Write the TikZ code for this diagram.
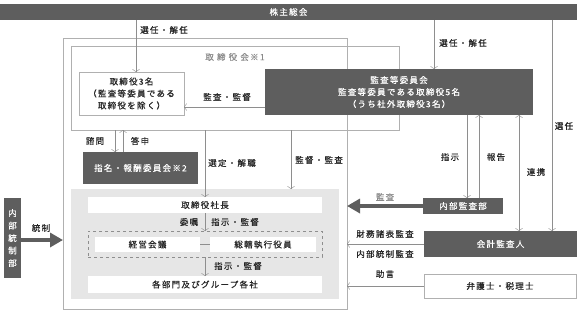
\documentclass[tikz,border=0pt]{standalone}
\usepackage{fontspec}
\setmainfont{Noto Sans CJK JP}[LetterSpace=15, FakeBold=0.5]
\usetikzlibrary{arrows.meta, positioning, calc}
\definecolor{darkfill}{HTML}{5E5E5E}
\definecolor{linegray}{HTML}{8E8E8E}
\definecolor{framegray}{HTML}{B0B0B0}
\definecolor{areagray}{HTML}{E6E6E6}
\definecolor{textgray}{HTML}{8A8A8A}
\begin{document}
\begin{tikzpicture}[
    x=1pt, y=-1pt,
    font=\fontsize{8.5}{12}\selectfont,
    every node/.style={inner sep=0pt, outer sep=0pt},
    box/.style={rectangle, draw=framegray, fill=white, anchor=north west, align=center, text=black!85},
    darkbox/.style={rectangle, fill=darkfill, anchor=north west, align=center, text=white},
    plainbox/.style={rectangle, fill=white, anchor=north west, align=center, text=black!85},
    framebox/.style={rectangle, draw=framegray, anchor=north west},
    lab/.style={text=black!85},
    arrow/.style={draw=linegray, -{Straight Barb[length=2.5pt, width=7pt]}},
    twoarrow/.style={draw=linegray, {Straight Barb[length=2.5pt, width=7pt]}-{Straight Barb[length=2.5pt, width=7pt]}},
    fatarrow/.style={draw=darkfill, line width=4pt, -{Triangle[length=13pt, width=14pt]}}
]
\useasboundingbox (0,0) rectangle (577,314);
\node[darkbox, minimum width=577pt, minimum height=16pt] (kabu) at (0,4) {株主総会};
\node[framebox, minimum width=284pt, minimum height=271pt] (outer) at (63,38) {};
\node[framebox, minimum width=328pt, minimum height=84pt] (board) at (71,46) {};
\node[text=textgray] (boardtitle) at (235,57) {取 締 役 会※1};
\node[box, minimum width=105pt, minimum height=43pt] (tori) at (79,72) {取締役3名\\（監査等委員である\\取締役を除く）};
\node[darkbox, minimum width=268pt, minimum height=46pt] (kansa) at (265,69) {監査等委員会\\監査等委員である取締役5名\\（うち社外取締役3名）};
\node[darkbox, minimum width=115pt, minimum height=32pt] (nomi) at (83,152) {指名・報酬委員会※2};
\node[rectangle, fill=areagray, anchor=north west, minimum width=268pt, minimum height=110pt] (exarea) at (71,189) {};
\node[plainbox, minimum width=234pt, minimum height=16pt] (pres) at (88,197) {取締役社長};
\node[rectangle, draw=linegray, dashed, anchor=north west, minimum width=234pt, minimum height=26pt] (dash) at (88,231) {};
\node[plainbox, minimum width=105pt, minimum height=15pt] (keiei) at (95,237) {経営会議};
\node[plainbox, minimum width=106pt, minimum height=15pt] (sokatsu) at (210,237) {総轄執行役員};
\node[plainbox, minimum width=234pt, minimum height=17pt] (depts) at (88,276) {各部門及びグループ各社};
\node[darkbox, minimum width=17pt, minimum height=80pt, font=\fontsize{8.5}{12.5}\selectfont] (naibu) at (4,198) {内\\部\\統\\制\\部};
\node[darkbox, minimum width=80pt, minimum height=16pt] (iad) at (423,198) {内部監査部};
\node[darkbox, minimum width=153pt, minimum height=26pt] (auditor) at (424,231) {会計監査人};
\node[box, minimum width=152pt, minimum height=24pt] (lawyer) at (424,274) {弁護士・税理士};

\coordinate (selA) at (136,0);
\coordinate (selB) at (434,0);
\coordinate (selC) at (552,0);
\coordinate (supY) at (0,107);
\coordinate (askX) at (115,0);
\coordinate (ansX) at (123,0);
\coordinate (appX) at (205,0);
\coordinate (monX) at (291,0);
\coordinate (ordX) at (467,0);
\coordinate (repX) at (479,0);
\coordinate (linkX) at (519,0);
\coordinate (ctlY) at (0,240);

\draw[arrow] (kabu.south -| selA) -- (tori.north -| selA);
\draw[arrow] (kabu.south -| selB) -- (kansa.north -| selB);
\draw[arrow] (kabu.south -| selC) -- (auditor.north -| selC);
\draw[arrow] (kansa.west |- supY) -- (tori.east |- supY);
\draw[arrow] (board.south -| askX) -- (nomi.north -| askX);
\draw[arrow] (nomi.north -| ansX) -- (board.south -| ansX);
\draw[arrow] (board.south -| appX) -- (pres.north -| appX);
\draw[arrow] (board.south -| monX) -- (exarea.north -| monX);
\draw[arrow] (pres.south -| appX) -- (dash.north -| appX);
\draw[draw=linegray] (keiei.east) -- (sokatsu.west);
\draw[arrow] (dash.south -| appX) -- (depts.north -| appX);
\draw[arrow] (kansa.south -| ordX) -- (iad.north -| ordX);
\draw[arrow] (iad.north -| repX) -- (kansa.south -| repX);
\draw[twoarrow] (kansa.south -| linkX) -- (auditor.north -| linkX);
\draw[arrow] (auditor.west) -- (outer.east |- auditor.west);
\draw[arrow] (lawyer.west) -- (outer.east |- lawyer.west);
\draw[fatarrow] (naibu.east |- ctlY) -- (outer.west |- ctlY);
\draw[fatarrow] (iad.west) -- (outer.east |- iad.west);

\node[lab] (l1) at (164,30) {選任・解任};
\node[lab] (l2) at (463,43) {選任・解任};
\node[lab] (l3) at (564,126) {選任};
\node[lab] (l4) at (227,97) {監査・監督};
\node[lab] (l5) at (95,141) {諮問};
\node[lab] (l6) at (140,141) {答申};
\node[lab] (l7) at (232,163) {選定・解職};
\node[lab] (l8) at (319,160) {監督・監査};
\node[lab] (l9) at (189,222) {委嘱};
\node[lab] (l10) at (235,222) {指示・監督};
\node[lab] (l11) at (238,266) {指示・監督};
\node[lab] (l12) at (41,228) {統制};
\node[text=textgray] (l13) at (385,197) {監査};
\node[lab] (l14) at (450,157) {指示};
\node[lab] (l15) at (496,157) {報告};
\node[lab] (l16) at (536,172) {連携};
\node[lab] (l17) at (385,234) {財務諸表監査};
\node[lab] (l18) at (385,254) {内部統制監査};
\node[lab] (l19) at (385,274) {助言};
\end{tikzpicture}
\end{document}
